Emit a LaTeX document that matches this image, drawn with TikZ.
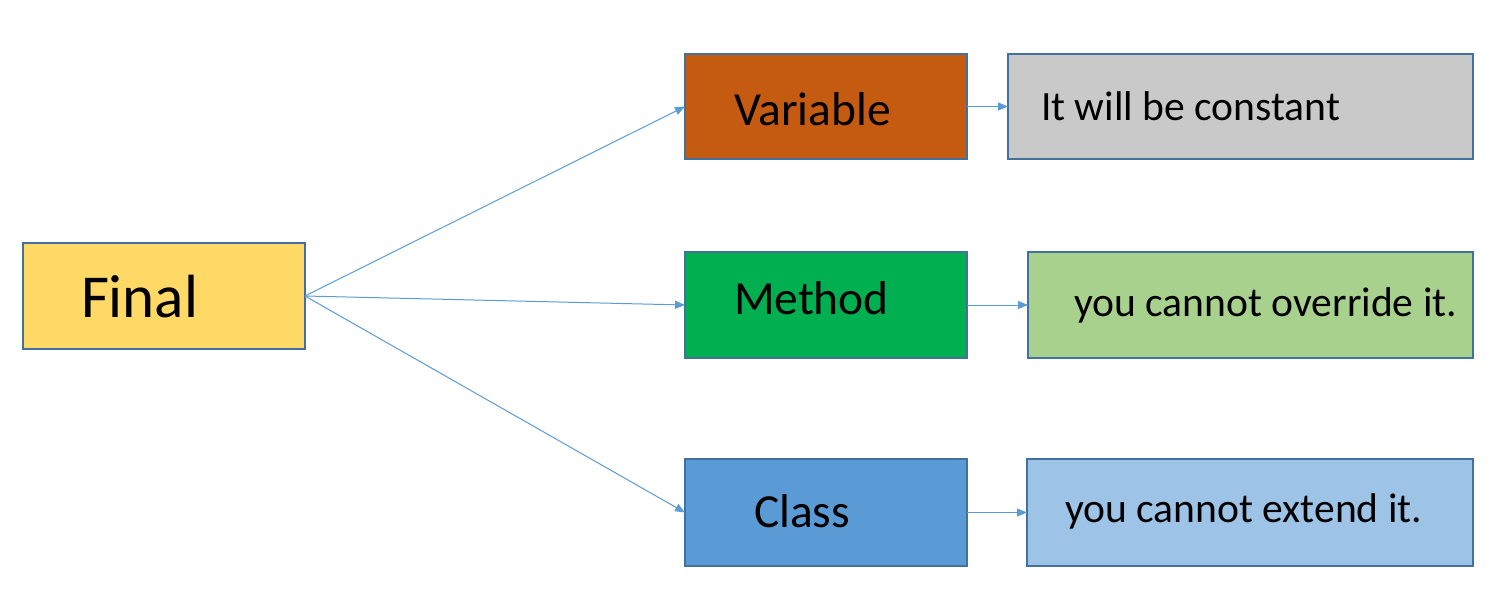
\documentclass[tikz,border=0pt]{standalone}
\usepackage{fontspec}
\setmainfont{Carlito}
\usetikzlibrary{arrows.meta}
\definecolor{cFinal}{HTML}{FFD966}
\definecolor{cVar}{HTML}{C55A11}
\definecolor{cConst}{HTML}{C9C9C9}
\definecolor{cMeth}{HTML}{00B050}
\definecolor{cOver}{HTML}{A9D18E}
\definecolor{cClass}{HTML}{5B9BD5}
\definecolor{cExt}{HTML}{9DC3E6}
\definecolor{cBorder}{HTML}{41719C}
\definecolor{cArrow}{HTML}{5B9BD5}
\tikzset{
  box/.style={draw=cBorder, line width=1.5pt, inner sep=0pt, outer sep=0pt, rectangle},
  lbl/.style={inner sep=0pt, outer sep=0pt, anchor=base west, text=black},
  big/.style={lbl, font=\fontsize{61}{72}\selectfont},
  mid/.style={lbl, font=\fontsize{47.5}{56}\selectfont},
  small/.style={lbl, font=\fontsize{41.6}{49}\selectfont},
  conn/.style={draw=cArrow, line width=1pt, -{Triangle[length=10pt,width=8pt]}}
}
\begin{document}
\begin{tikzpicture}[x=1pt, y=-1pt]
\useasboundingbox (0,0) rectangle (1504,608);
% boxes
\node[box, fill=cFinal, minimum width=282pt, minimum height=106pt] (final) at (164,296) {};
\node[box, fill=cVar, minimum width=282pt, minimum height=105pt] (var) at (826,106.5) {};
\node[box, fill=cConst, minimum width=465pt, minimum height=105pt] (const) at (1240.5,106.5) {};
\node[box, fill=cMeth, minimum width=282pt, minimum height=106pt] (meth) at (826,305) {};
\node[box, fill=cOver, minimum width=445pt, minimum height=106pt] (over) at (1250.5,305) {};
\node[box, fill=cClass, minimum width=282pt, minimum height=107pt] (class) at (826,512.5) {};
\node[box, fill=cExt, minimum width=446pt, minimum height=107pt] (ext) at (1250,512.5) {};
% texts
\node[big] (tfinal) at (81,317) {Final};
\node[mid] (tvar) at (734,125) {Variable};
\node[mid] (tmeth) at (734,314) {Method};
\node[mid] (tclass) at (754,527) {Class};
\node[small] (tconst) at (1041,120) {It will be constant};
\node[small] (tover) at (1074,316) {you cannot override it.};
\node[small] (text) at (1065,522) {you cannot extend it.};
% connectors
\draw[conn] (final.east) -- (var.west);
\draw[conn] (final.east) -- (meth.west);
\draw[conn] (final.east) -- (class.west);
\draw[conn] (var.east) -- (const.west);
\draw[conn] (meth.east) -- (over.west);
\draw[conn] (class.east) -- (ext.west);
\end{tikzpicture}
\end{document}
